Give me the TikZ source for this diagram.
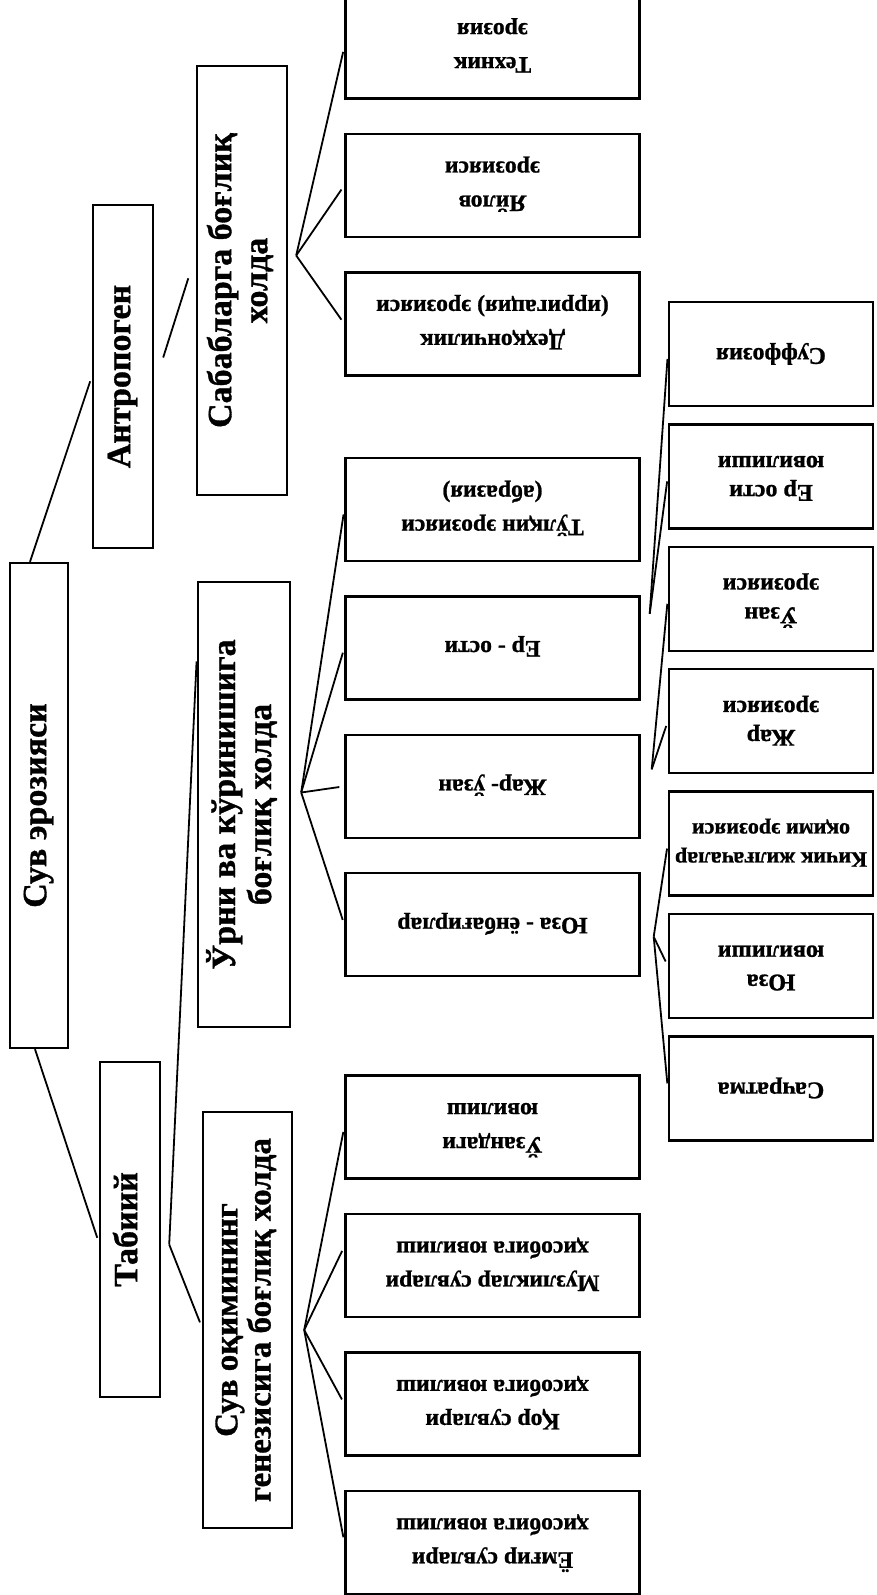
\documentclass[tikz,border=0pt]{standalone}
\usepackage{graphicx}
\usepackage{fontspec}
\setmainfont{Liberation Serif}[BoldFeatures={FakeBold=1}]
\usetikzlibrary{positioning,calc}

\newcommand{\flipped}[1]{\rotatebox{180}{\begin{tabular}{@{}c@{}}#1\end{tabular}}}
\newcommand{\sideup}[1]{\rotatebox{90}{\begin{tabular}{@{}c@{}}#1\end{tabular}}}

\tikzset{
  box/.style={draw, line width=1.2pt, inner sep=0pt, align=center},
  lbox/.style={box, font=\fontsize{17}{18}\selectfont\bfseries},
  mbox/.style={box, minimum width=147pt, minimum height=51.5pt,
    font=\fontsize{11.8}{17}\selectfont\bfseries},
  rbox/.style={box, minimum width=102pt, minimum height=52pt,
    font=\fontsize{12}{14.5}\selectfont\bfseries},
  link/.style={line width=0.9pt, shorten >=2.5pt},
}

\begin{document}
\begin{tikzpicture}[x=0.5pt,y=-0.5pt]
\useasboundingbox (0,0) rectangle (877,1595);

\node [lbox, minimum width=29pt, minimum height=242.5pt] (root) at (39,805.5) {\sideup{Сув эрозияси}};
\node [lbox, minimum width=30pt, minimum height=171.5pt] (ant) at (123,376.5) {\sideup{Антропоген}};
\node [lbox, minimum width=30pt, minimum height=167.5pt] (tab) at (130,1229.5) {\sideup{Табиий}};
\node [lbox, minimum width=45pt, minimum height=214.5pt] (sab) at (242,280.5) {\sideup{Сабабларга боғлиқ\\холда}};
\node [lbox, minimum width=46pt, minimum height=222.5pt] (urn) at (244,804.5) {\sideup{Ўрни ва кўринишига\\боғлиқ холда}};
\node [lbox, minimum width=44.5pt, minimum height=208pt, font=\fontsize{16.5}{16}\selectfont\bfseries] (oqim) at (247.5,1320) {\sideup{Сув оқимининг\\генезисига боғлиқ холда}};

\node [mbox] (tex) at (492.5,47) {\flipped{Техник\\эрозия}};
\node [mbox, below=16.5pt of tex] (yay) {\flipped{Яйлов\\эрозияси}};
\node [mbox, below=16.5pt of yay] (deh) {\flipped{Деҳқончилик\\(ирригация) эрозияси}};

\node [mbox] (tul) at (492.5,509.5) {\flipped{Тўлқин эрозияси\\(абразия)}};
\node [mbox, below=16.5pt of tul] (erosti) {\flipped{Ер - ости}};
\node [mbox, below=16.5pt of erosti] (jaruzan) {\flipped{Жар- ўзан}};
\node [mbox, below=16.5pt of jaruzan] (yuza) {\flipped{Юза - ёнбағирлар}};

\node [mbox] (uzan) at (492.5,1127) {\flipped{Ўзандаги\\ювилиш}};
\node [mbox, below=16.5pt of uzan] (muz) {\flipped{Музликлар сувлари\\ҳисобига ювилиш}};
\node [mbox, below=16.5pt of muz] (qor) {\flipped{Қор сувлари\\ҳисобига ювилиш}};
\node [mbox, below=16.5pt of qor] (yom) {\flipped{Ёмғир сувлари\\ҳисобига ювилиш}};

\node [rbox] (suf) at (771,354) {\flipped{Суффозия}};
\node [rbox, below=8pt of suf] (eryuv) {\flipped{Ер ости\\ювилиши}};
\node [rbox, below=8pt of eryuv] (uzer) {\flipped{Ўзан\\эрозияси}};
\node [rbox, below=8pt of uzer] (jarer) {\flipped{Жар\\эрозияси}};
\node [rbox, below=8pt of jarer, font=\fontsize{11}{14.5}\selectfont\bfseries] (kichik) {\flipped{Кичик жилғачалар\\оқими эрозияси}};
\node [rbox, below=8pt of kichik] (yuzayuv) {\flipped{Юза\\ювилиши}};
\node [rbox, below=8pt of yuzayuv] (sach) {\flipped{Сачратма}};

\coordinate (tabtip) at ($(tab.east)+(8,15)$);
\coordinate (sabtip) at ($(sab.east)+(8,-25)$);
\coordinate (urtip) at ($(urn.east)+(10,-12)$);
\coordinate (oqtip) at ($(oqim.east)+(11,10)$);
\coordinate (ertip) at ($(erosti.east)+(9,-34)$);
\coordinate (jartip) at ($(jaruzan.east)+(11,-17)$);
\coordinate (yuzatip) at ($(yuza.east)+(13,12)$);

\draw [link] ($(root.north)+(-9,0)$) -- (ant.west);
\draw [link] ($(root.south)+(-4,0)$) -- ($(tab.west)+(0,13)$);
\draw [link] ($(ant.east)+(9,-19)$) -- ($(sab.west)+(-6,-7)$);
\draw [link] (tabtip) -- ($(urn.west)+(0,-148)$);
\draw [link] (tabtip) -- ($(oqim.west)+(0,7)$);

\draw [link] (sabtip) -- (tex.west);
\draw [link] (sabtip) -- (yay.west);
\draw [link] (sabtip) -- (deh.west);

\draw [link] (urtip) -- (tul.west);
\draw [link] (urtip) -- (erosti.west);
\draw [link] (urtip) -- (jaruzan.west);
\draw [link] (urtip) -- (yuza.west);

\draw [link] (oqtip) -- (uzan.west);
\draw [link] (oqtip) -- ($(muz.west)+(0,-19)$);
\draw [link] (oqtip) -- (qor.west);
\draw [link] (oqtip) -- (yom.west);

\draw [link] (ertip) -- (suf.west);
\draw [link] (ertip) -- (eryuv.west);
\draw [link] (jartip) -- (uzer.west);
\draw [link] (jartip) -- (jarer.west);
\draw [link] (yuzatip) -- (kichik.west);
\draw [link] (yuzatip) -- (yuzayuv.west);
\draw [link] (yuzatip) -- (sach.west);
\end{tikzpicture}
\end{document}
